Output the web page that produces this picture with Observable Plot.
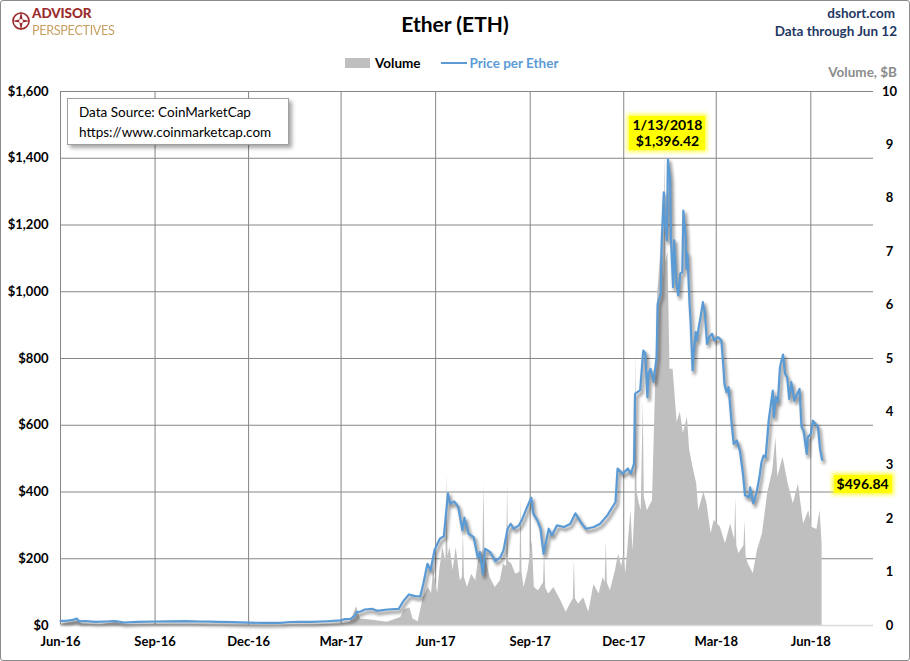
<!DOCTYPE html>
<html>
<head>
<meta charset="utf-8">
<script src="https://cdn.jsdelivr.net/npm/d3@7"></script>
<script src="https://cdn.jsdelivr.net/npm/@observablehq/plot@0.6"></script>
<style>
  html, body { margin: 0; padding: 0; background: #fff; }
  #wrap { position: relative; width: 910px; height: 661px; overflow: hidden; font-family: Lato, "Open Sans", sans-serif; }
  #wrap svg { position: absolute; left: 0; top: 0; }
  #border { position: absolute; left: 0; top: 0; width: 908px; height: 659px; border: 1px solid #8a8a8a; border-radius: 3px; pointer-events: none; }
  .abs { position: absolute; white-space: nowrap; }
  [aria-description="price-shadow"], [aria-label="price-shadow"] { filter: blur(1.4px); }
  .hl { background: #ffff00; box-shadow: 0 0 4px 2px rgba(255,255,0,0.7); font-size: 14px; font-weight: 700; color: #000; text-align: center; line-height: 16px; padding: 1px 3px; }
</style>
</head>
<body>
<div id="wrap">
  <div id="border"></div>
</div>
<script>
// ---- data ----
const priceDates = ["2016-06-01","2016-06-08","2016-06-13","2016-06-17","2016-06-19","2016-06-25","2016-07-05","2016-07-15","2016-07-24","2016-08-02","2016-08-15","2016-09-01","2016-09-15","2016-10-01","2016-10-15","2016-10-25","2016-11-01","2016-11-15","2016-12-01","2016-12-15","2017-01-01","2017-01-10","2017-01-20","2017-02-01","2017-02-15","2017-02-28","2017-03-05","2017-03-10","2017-03-14","2017-03-16","2017-03-20","2017-03-24","2017-03-31","2017-04-05","2017-04-15","2017-04-26","2017-05-01","2017-05-06","2017-05-12","2017-05-17","2017-05-20","2017-05-24","2017-05-27","2017-05-31","2017-06-05","2017-06-09","2017-06-13","2017-06-15","2017-06-19","2017-06-23","2017-06-27","2017-06-29","2017-07-03","2017-07-08","2017-07-12","2017-07-14","2017-07-17","2017-07-19","2017-07-24","2017-07-29","2017-08-03","2017-08-06","2017-08-10","2017-08-13","2017-08-16","2017-08-21","2017-08-24","2017-08-29","2017-09-02","2017-09-04","2017-09-08","2017-09-11","2017-09-14","2017-09-17","2017-09-19","2017-09-22","2017-09-27","2017-10-04","2017-10-10","2017-10-15","2017-10-20","2017-10-25","2017-11-02","2017-11-08","2017-11-15","2017-11-20","2017-11-23","2017-11-25","2017-11-30","2017-12-05","2017-12-08","2017-12-11","2017-12-12","2017-12-17","2017-12-20","2017-12-22","2017-12-24","2017-12-25","2017-12-27","2017-12-30","2018-01-02","2018-01-03","2018-01-06","2018-01-07","2018-01-09","2018-01-10","2018-01-12","2018-01-13","2018-01-15","2018-01-16","2018-01-18","2018-01-19","2018-01-21","2018-01-23","2018-01-25","2018-01-27","2018-01-28","2018-01-30","2018-01-31","2018-02-01","2018-02-03","2018-02-04","2018-02-06","2018-02-07","2018-02-09","2018-02-10","2018-02-12","2018-02-14","2018-02-16","2018-02-18","2018-02-20","2018-02-22","2018-02-25","2018-02-27","2018-03-03","2018-03-06","2018-03-08","2018-03-09","2018-03-11","2018-03-13","2018-03-16","2018-03-18","2018-03-21","2018-03-24","2018-03-27","2018-03-29","2018-04-02","2018-04-03","2018-04-06","2018-04-09","2018-04-12","2018-04-14","2018-04-16","2018-04-18","2018-04-20","2018-04-21","2018-04-25","2018-04-26","2018-04-28","2018-04-30","2018-05-02","2018-05-05","2018-05-07","2018-05-09","2018-05-11","2018-05-13","2018-05-16","2018-05-21","2018-05-23","2018-05-25","2018-05-28","2018-05-29","2018-06-01","2018-06-03","2018-06-07","2018-06-08","2018-06-10","2018-06-12"];
const priceValues = [14,14.5,17,20.5,12.5,13.5,11,12,13.5,9,11,12,12.5,13,12,11.5,11,10,8.5,7.8,8,10.5,10.6,10.7,12.8,15.5,19,20,28,40,42,48,50,44,48,50,75,93,88,87,125,185,165,227,260,268,396,365,372,355,285,323,275,265,203,220,153,230,220,193,205,225,290,305,290,300,317,355,383,335,315,290,215,260,290,270,300,295,305,336,310,290,295,305,330,355,370,470,455,470,455,485,694,705,824,816,684,754,769,730,804,964,994,1154,1298,1204,1154,1396.42,1343,1154,1014,1154,1034,989,1054,1059,1243,1174,1069,1114,964,914,764,814,879,854,894,929,969,934,844,864,874,854,864,854,774,724,699,714,604,544,554,524,455,390,384,414,366,395,444,489,509,504,574,614,704,624,684,669,774,812,754,744,679,729,674,709,594,584,514,564,574,614,599,594,529,496.84];

const volumeDates = ["2016-06-01","2016-06-17","2016-06-22","2016-07-10","2016-07-25","2016-08-05","2016-09-01","2016-10-01","2016-11-01","2016-12-01","2017-01-01","2017-02-01","2017-02-28","2017-03-10","2017-03-16","2017-03-20","2017-04-01","2017-04-15","2017-04-28","2017-05-02","2017-05-07","2017-05-10","2017-05-15","2017-05-20","2017-05-25","2017-05-28","2017-05-30","2017-06-03","2017-06-05","2017-06-08","2017-06-11","2017-06-12","2017-06-13","2017-06-15","2017-06-18","2017-06-21","2017-06-25","2017-06-27","2017-06-28","2017-06-29","2017-07-02","2017-07-06","2017-07-10","2017-07-13","2017-07-17","2017-07-18","2017-07-19","2017-07-21","2017-07-24","2017-07-29","2017-08-03","2017-08-06","2017-08-09","2017-08-10","2017-08-11","2017-08-14","2017-08-18","2017-08-22","2017-08-23","2017-08-24","2017-08-26","2017-08-30","2017-09-03","2017-09-05","2017-09-09","2017-09-14","2017-09-15","2017-09-16","2017-09-19","2017-09-24","2017-10-01","2017-10-06","2017-10-10","2017-10-13","2017-10-14","2017-10-15","2017-10-18","2017-10-23","2017-10-28","2017-11-02","2017-11-07","2017-11-11","2017-11-13","2017-11-14","2017-11-15","2017-11-18","2017-11-23","2017-11-26","2017-11-29","2017-12-01","2017-12-03","2017-12-08","2017-12-10","2017-12-12","2017-12-13","2017-12-14","2017-12-16","2017-12-18","2017-12-20","2017-12-21","2017-12-24","2017-12-29","2018-01-01","2018-01-03","2018-01-07","2018-01-09","2018-01-10","2018-01-11","2018-01-13","2018-01-15","2018-01-18","2018-01-22","2018-01-25","2018-01-28","2018-02-01","2018-02-03","2018-02-06","2018-02-10","2018-02-12","2018-02-17","2018-02-20","2018-02-24","2018-02-27","2018-03-05","2018-03-10","2018-03-15","2018-03-19","2018-03-20","2018-03-21","2018-03-23","2018-03-28","2018-03-29","2018-03-30","2018-04-01","2018-04-06","2018-04-10","2018-04-15","2018-04-20","2018-04-25","2018-04-28","2018-04-30","2018-05-05","2018-05-10","2018-05-15","2018-05-20","2018-05-25","2018-05-30","2018-06-02","2018-06-07","2018-06-10","2018-06-12"];
const volumeValues = [0.02,0.08,0.03,0.015,0.06,0.02,0.015,0.015,0.01,0.01,0.01,0.015,0.03,0.06,0.35,0.12,0.1,0.06,0.15,0.3,0.33,0.12,0.07,0.52,0.71,0.6,1.03,0.6,1.03,1.46,1.2,2.84,1.3,1.46,1.03,1.46,0.84,0.9,1.78,0.9,0.71,0.96,0.84,1.28,1.4,2.65,1.3,1.15,0.9,0.71,0.84,1.15,1.1,2.65,1.2,1.15,0.96,1.0,2.4,1.0,0.71,1.03,1.59,0.71,0.65,0.8,1.4,0.7,0.59,0.71,0.46,0.25,0.4,0.5,1.22,0.5,0.4,0.52,0.25,0.77,0.59,0.9,0.8,1.59,0.8,0.65,1.03,1.34,1.1,1.35,0.97,2.15,1.4,2.2,5.15,2.5,2.3,2.15,4.2,2.4,2.15,2.34,4.5,6.2,7.2,6.5,8.9,6.8,7.0,4.8,4.8,3.8,4.0,3.6,3.9,3.3,3.0,2.65,2.15,2.5,2.28,1.72,1.97,1.84,1.53,1.9,1.6,2.4,1.5,1.35,1.5,1.97,1.3,1.16,0.97,1.4,1.72,2.47,2.9,3.52,2.78,3.15,2.65,2.28,2.65,1.9,2.15,1.84,1.8,2.15,1.53];

const priceTicks = [0,200,400,600,800,1000,1200,1400,1600];
const volumeTicks = [0,1,2,3,4,5,6,7,8,9,10];
const quarterTicks = ["2016-06-01","2016-09-01","2016-12-01","2017-03-01","2017-06-01","2017-09-01","2017-12-01","2018-03-01","2018-06-01"];
const xDomain = ["2016-06-01","2018-08-01"];
const peakPoint = {date: "2018-01-13", value: 1396.42};
const lastPoint = {date: "2018-06-12", value: 496.84};

// ---- build ----
const VOL_TO_PRICE = 1600 / 10; // right axis 0–10 $B aligned with left 0–1600
const price = priceDates.map((d, i) => ({date: new Date(d), value: priceValues[i]}));
const volume = volumeDates.map((d, i) => ({date: new Date(d), v: volumeValues[i]}));
const qTicks = quarterTicks.map(d => new Date(d));

const chart = Plot.plot({
  width: 910,
  height: 661,
  marginLeft: 60,
  marginRight: 37,
  marginTop: 91,
  marginBottom: 36,
  style: {fontFamily: "Lato, 'Open Sans', sans-serif", fontSize: "13px", fontWeight: "bold", color: "#000", background: "transparent"},
  x: {type: "utc", domain: xDomain.map(d => new Date(d)), label: null},
  y: {domain: [0, 1600], label: null},
  marks: [
    Plot.gridY(priceTicks, {stroke: "#868686", strokeOpacity: 1}),
    Plot.gridX(qTicks, {stroke: "#868686", strokeOpacity: 1}),
    Plot.areaY(volume, {x: "date", y: d => d.v * VOL_TO_PRICE, fill: "#bfbfbf", curve: "linear"}),
    Plot.ruleY([0], {stroke: "#d9d9d9", strokeWidth: 1.5}),
    Plot.lineY(price, {x: "date", y: "value", stroke: "#000", strokeOpacity: 0.4, strokeWidth: 3, dx: 2, dy: 3, ariaDescription: "price-shadow"}),
    Plot.lineY(price, {x: "date", y: "value", stroke: "#5b9bd5", strokeWidth: 2.2}),
    Plot.axisY(priceTicks, {anchor: "left", tickSize: 0, tickPadding: 12, tickFormat: d3.format("$,"), label: null, fontSize: 13, fontWeight: "bold"}),
    Plot.axisY(volumeTicks.map(v => v * VOL_TO_PRICE), {anchor: "right", tickSize: 0, tickPadding: 16, textAnchor: "middle", tickFormat: d => String(Math.round(d / VOL_TO_PRICE)), label: null, fontSize: 13, fontWeight: "bold"}),
    Plot.axisX(qTicks, {anchor: "bottom", tickSize: 0, tickPadding: 11, tickFormat: d3.utcFormat("%b-%y"), label: null, fontSize: 13, fontWeight: "bold"})
  ]
});

const wrap = document.getElementById("wrap");
wrap.insertBefore(chart, wrap.firstChild);

function addDiv(html, css, cls) {
  const el = document.createElement("div");
  el.className = "abs" + (cls ? " " + cls : "");
  el.innerHTML = html;
  el.style.cssText += css;
  wrap.appendChild(el);
  return el;
}

// logo
addDiv(`<svg width="20" height="22" viewBox="0 0 20 22"><circle cx="10" cy="11" r="8" fill="none" stroke="#9b2b2b" stroke-width="1.6"/><path d="M10 1 L11.6 9.4 L19 11 L11.6 12.6 L10 21 L8.4 12.6 L1 11 L8.4 9.4 Z" fill="#9b2b2b"/><circle cx="10" cy="11" r="2" fill="#fff"/></svg>`, "left:11px;top:10px;line-height:0;");
addDiv("ADVISOR", "left:32px;top:7px;font-size:13.5px;line-height:12px;height:12px;font-weight:900;color:#9b2b2b;letter-spacing:-0.1px;");
addDiv("PERSPECTIVES", "left:32px;top:24px;font-size:13.5px;line-height:12px;height:12px;font-weight:400;color:#c9a063;letter-spacing:-0.3px;transform:scaleX(0.93);transform-origin:left;");

// titles
addDiv("Ether (ETH)", "left:0;width:910px;top:11px;text-align:center;font-size:21px;font-weight:700;color:#000;");
addDiv("dshort.com", "right:15px;top:5px;font-size:13.5px;font-weight:700;color:#1f3864;");
addDiv("Data through Jun 12", "right:13px;top:23px;font-size:13.5px;font-weight:700;color:#1f3864;");

// legend
addDiv(`<span style="display:inline-block;width:25px;height:10px;background:#bfbfbf;vertical-align:middle;margin-right:5px;"></span><span style="vertical-align:middle;color:#000;">Volume</span><span style="display:inline-block;width:26px;height:2px;background:#5b9bd5;vertical-align:middle;margin:0 3px 0 20px;"></span><span style="vertical-align:middle;color:#5b9bd5;">Price per Ether</span>`,
  "left:345px;top:53px;font-size:13.5px;font-weight:700;");
addDiv("Volume, $B", "right:13px;top:64px;font-size:13.5px;font-weight:700;color:#8c8c8c;");

// data source box
addDiv("Data Source: CoinMarketCap<br>https://www.coinmarketcap.com",
  "left:67px;top:98px;width:209px;height:40px;padding:3px 0 2px 11px;border:1px solid #a0a0a0;background:#fff;box-shadow:3px 3px 4px rgba(0,0,0,0.35);font-size:13.5px;font-weight:400;line-height:20px;color:#000;");

// annotations positioned through the chart's own scales
const sx = chart.scale("x"), sy = chart.scale("y");
const fmtDate = d3.utcFormat("%-m/%-d/%Y"), fmtMoney = d3.format("$,.2f");
const pd = new Date(peakPoint.date);
const peak = addDiv(fmtDate(pd) + "<br>" + fmtMoney(peakPoint.value), "", "hl");
peak.style.left = sx.apply(pd) + "px";
peak.style.top = (sy.apply(peakPoint.value) - 9) + "px";
peak.style.transform = "translate(-50%, -100%)";

const ld = new Date(lastPoint.date);
const last = addDiv(fmtMoney(lastPoint.value), "", "hl");
last.style.left = (sx.apply(ld) + 12) + "px";
last.style.top = (sy.apply(lastPoint.value) + 25) + "px";
last.style.transform = "translate(0, -50%)";
</script>
</body>
</html>
